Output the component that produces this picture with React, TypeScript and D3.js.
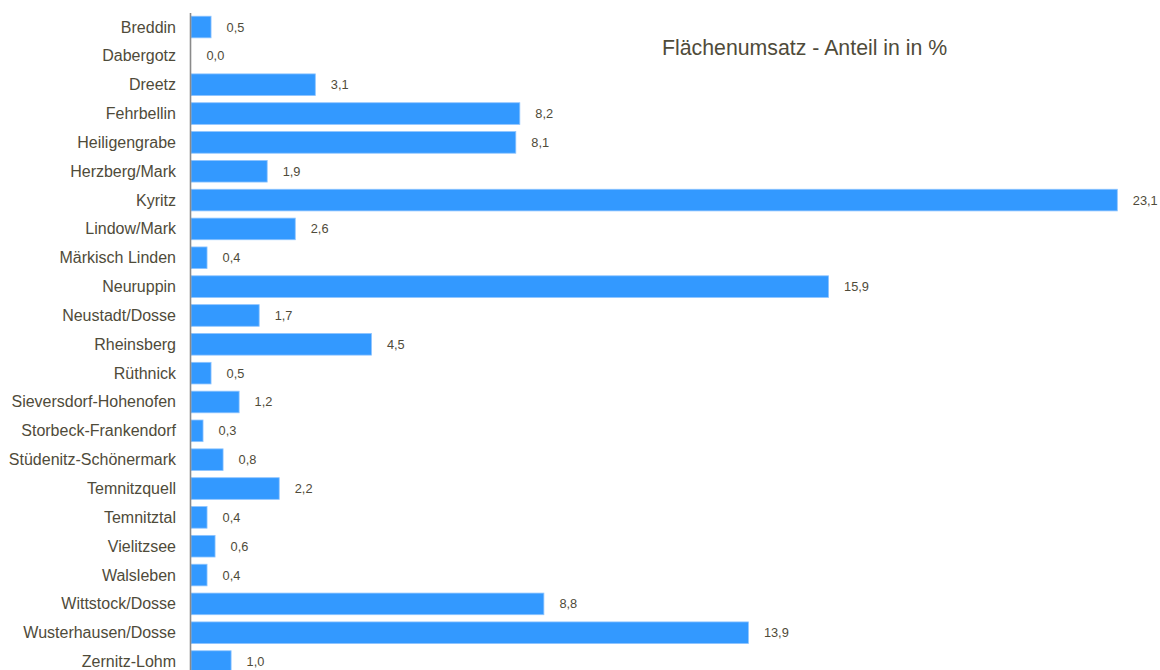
import React from "react";
import * as d3 from "d3";

const categories = [
  "Breddin", "Dabergotz", "Dreetz", "Fehrbellin", "Heiligengrabe", "Herzberg/Mark",
  "Kyritz", "Lindow/Mark", "Märkisch Linden", "Neuruppin", "Neustadt/Dosse", "Rheinsberg",
  "Rüthnick", "Sieversdorf-Hohenofen", "Storbeck-Frankendorf", "Stüdenitz-Schönermark",
  "Temnitzquell", "Temnitztal", "Vielitzsee", "Walsleben", "Wittstock/Dosse",
  "Wusterhausen/Dosse", "Zernitz-Lohm",
];
const values = [
  0.5, 0.0, 3.1, 8.2, 8.1, 1.9, 23.1, 2.6, 0.4, 15.9, 1.7, 4.5, 0.5, 1.2, 0.3, 0.8,
  2.2, 0.4, 0.6, 0.4, 8.8, 13.9, 1.0,
];
const title = "Flächenumsatz - Anteil in in %";

const W = 1160;
const H = 670;
const x0 = 191;
const textColor = "#4f4b3a";
const font = "'Liberation Sans', Arial, sans-serif";

export default function App() {
  const x = d3.scaleLinear().domain([0, 24]).range([x0, x0 + 24 * 40.1]);
  const y = d3
    .scaleBand<string>()
    .domain(categories)
    .range([12.6, 676])
    .paddingInner(0.25)
    .paddingOuter(0.125);
  const fmt = (v: number) => d3.format(".1f")(v).replace(".", ",");

  return (
    <svg
      width={W}
      height={H}
      style={{ position: "absolute", left: 0, top: 0, background: "#fff", fontFamily: font }}
    >
      {categories.map((c, i) => {
        const v = values[i];
        const yy = y(c)!;
        const bw = x(v) - x(0);
        const cy = yy + y.bandwidth() / 2;
        return (
          <g key={c}>
            {bw > 0 && (
              <rect
                x={x(0)}
                y={yy}
                width={bw}
                height={y.bandwidth()}
                fill="#3399ff"
                stroke="#8ec4ff"
                strokeWidth={0.8}
              />
            )}
            <text
              x={176}
              y={cy}
              textAnchor="end"
              dominantBaseline="central"
              fontSize={16}
              fill={textColor}
            >
              {c}
            </text>
            <text
              x={x(v) + 15.5}
              y={cy}
              dominantBaseline="central"
              fontSize={12.8}
              fill={textColor}
            >
              {fmt(v)}
            </text>
          </g>
        );
      })}
      <line x1={x0 - 0.5} x2={x0 - 0.5} y1={13} y2={H} stroke="#8a8a8a" strokeWidth={1.6} />
      <text x={662} y={55} fontSize={21.3} fill={textColor}>
        {title}
      </text>
    </svg>
  );
}
